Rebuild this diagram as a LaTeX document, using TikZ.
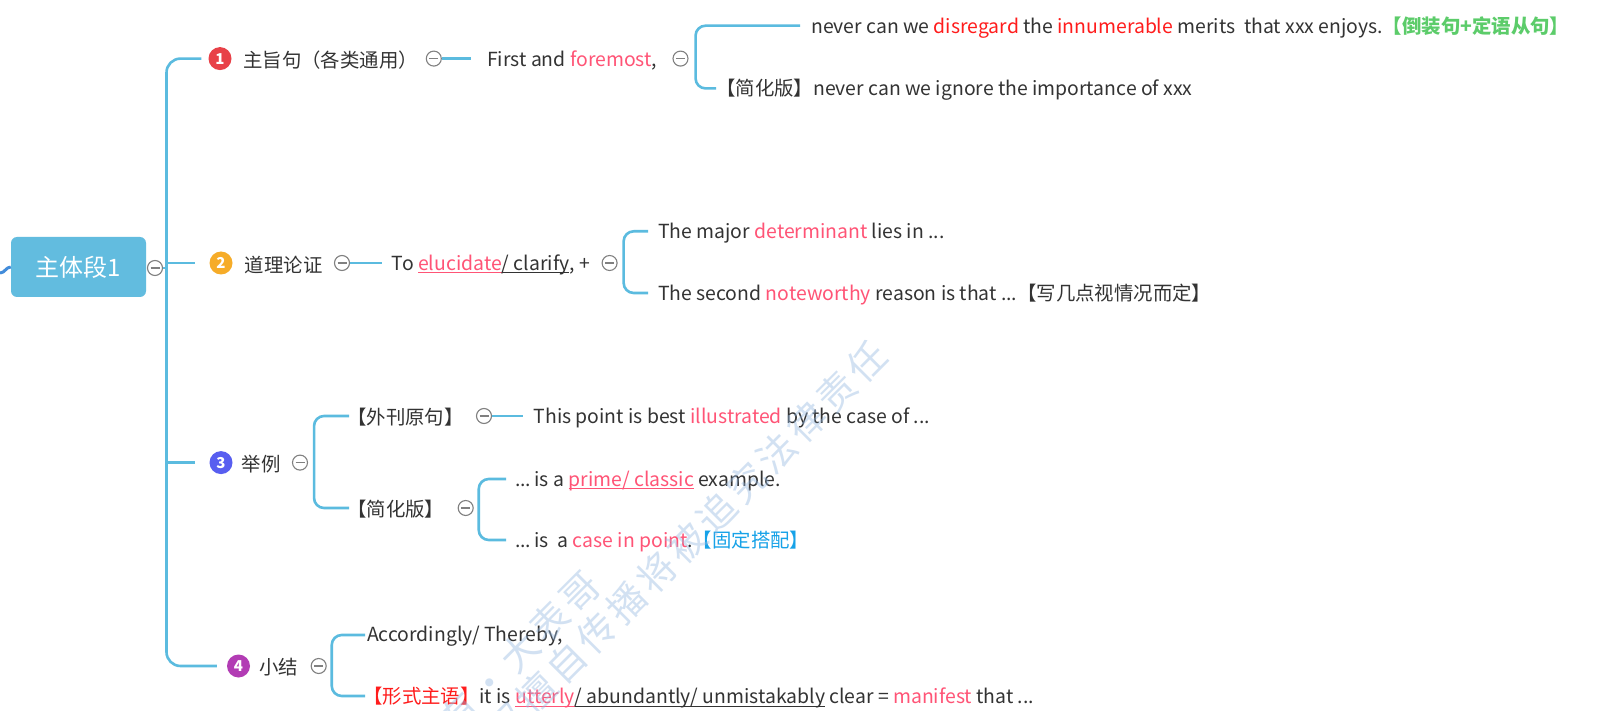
\documentclass[tikz,border=0pt]{standalone}
\usepackage{fontspec}
\setmainfont{Noto Sans CJK SC}
\usetikzlibrary{calc}
\definecolor{lineblue}{RGB}{91,187,223}
\definecolor{rootblue}{RGB}{98,188,223}
\definecolor{darkline}{RGB}{66,140,218}
\definecolor{txt}{RGB}{51,51,51}
\definecolor{pinkc}{RGB}{255,84,118}
\definecolor{redc}{RGB}{255,28,28}
\definecolor{greenc}{RGB}{92,204,106}
\definecolor{bluec}{RGB}{22,162,232}
\definecolor{wm}{RGB}{150,185,225}
\definecolor{numred}{RGB}{232,65,72}
\definecolor{numorange}{RGB}{246,172,40}
\definecolor{numblue}{RGB}{88,94,240}
\definecolor{numpurple}{RGB}{178,60,180}
\definecolor{foldgray}{RGB}{128,128,128}
\newcommand\myul[1]{\setbox0\hbox{#1}\rlap{\rule[-3.2pt]{\wd0}{1.1pt}}\box0\relax}
\newcommand\wk{\kern4.5pt}
\tikzset{
  conn/.style={draw=lineblue, line width=2.6pt},
  bracketline/.style={conn, rounded corners=10pt},
  txtnode/.style={anchor=west, inner sep=0pt, yshift=-1.5pt, text=txt, font=\fontsize{19.4}{23}\selectfont},
  numc/.style={circle, fill=#1, text=white, minimum size=23pt, inner sep=0pt, font=\fontsize{15}{15}\selectfont\bfseries},
  fold/.style={circle, draw=foldgray, fill=white, line width=1.1pt, minimum size=15pt, inner sep=0pt,
    path picture={\draw[foldgray, line width=1.1pt] ([xshift=-4.5pt]path picture bounding box.center) -- ([xshift=4.5pt]path picture bounding box.center);}},
  rootbox/.style={rectangle, rounded corners=6pt, fill=rootblue, text=white, minimum width=135pt, minimum height=60pt, inner sep=0pt, font=\fontsize{24}{26}\selectfont},
  wmtext/.style={text=wm, opacity=0.42, inner sep=0pt, font=\fontsize{38}{38}\selectfont, rotate=45}
}
\begin{document}
\begin{tikzpicture}[x=1pt,y=-1pt]
\useasboundingbox (0,0) rectangle (1612,711);
\fill[white] (0,0) rectangle (1612,711);

% root
\node[rootbox] (root) at (78.5,267) {主体段1};
\coordinate (inL) at (0,273);
\draw[darkline, line width=3pt] (inL) to[out=0,in=180] (root.west);
\node[fold] (rf) at (155,268) {};
\coordinate (spine) at (166.5,263);

% topic 1
\node[numc=numred] (c1) at (220,58.6) {1};
\node[txtnode] (l1) at (243,58.6) {主旨句（各类通用）};
\node[fold] (f1) at (433.8,58.6) {};
\node[txtnode] (s1) at (487,58.6) {First and {\color{pinkc}foremost},};
\node[fold] (f1b) at (680.5,58.6) {};
\node[txtnode] (s1a) at (811,25.7) {never can we {\color{redc}disregard} the {\color{redc}innumerable} merits\ \ that xxx enjoys.{\color{greenc}\bfseries【倒装句+定语从句】}};
\node[txtnode] (s1b) at (716,88.4) {【简化版】never can we ignore the importance of xxx};

% topic 2
\node[numc=numorange] (c2) at (221,263) {2};
\node[txtnode] (l2) at (244.7,263) {道理论证};
\node[fold] (f2) at (342,263) {};
\node[txtnode] (s2) at (391.7,263) {To {\color{pinkc}\myul{elucidate}}\myul{/ clarify}, +};
\node[fold] (f2b) at (609.6,263) {};
\node[txtnode] (s2a) at (658,231.3) {The major {\color{pinkc}determinant} lies in ...};
\node[txtnode] (s2b) at (658,293) {The second {\color{pinkc}noteworthy} reason is that ...【写几点视情况而定】};

% topic 3
\node[numc=numblue] (c3) at (221,462.6) {3};
\node[txtnode] (l3) at (241.6,462.6) {举例};
\node[fold] (f3) at (300,462.6) {};
\node[txtnode] (s3a) at (347,416) {【外刊原句】};
\node[fold] (f3a) at (484,416) {};
\node[txtnode] (s3a1) at (533.5,416) {This point is best {\color{pinkc}illustrated} by the case of ...};
\node[txtnode] (s3b) at (347,508) {【简化版】};
\node[fold] (f3b) at (465.7,508) {};
\node[txtnode] (s3b1) at (515,479) {...\,is a {\color{pinkc}\myul{prime/ classic}} example.};
\node[txtnode] (s3b2) at (515,540) {...\,is\ \ a {\color{pinkc}case in point}.{\color{bluec}【固定搭配】}};

% topic 4
\node[numc=numpurple] (c4) at (238.5,666) {4};
\node[txtnode] (l4) at (259,666) {小结};
\node[fold] (f4) at (318.7,666) {};
\node[txtnode] (s4a) at (367,635) {Accordingly/ Thereby,};
\node[txtnode] (s4b) at (363,696) {{\color{redc}【形式主语】}it is {\color{pinkc}\myul{utterly}}\myul{/ abundantly/ unmistakably} clear = {\color{pinkc}manifest} that ...};

% connectors: root and spine
\draw[conn] (rf.east) -- (spine |- rf);
\draw[conn, rounded corners=14pt] ([xshift=-7pt]c1.west) -| (spine) |- ([xshift=-10pt]c4.west);
\draw[conn] (spine) -- ([xshift=-14pt]c2.west);
\draw[conn] (spine |- c3) -- ([xshift=-14pt]c3.west);

% topic 1 connectors
\draw[conn] (f1.east) -- ([xshift=-16pt,yshift=1.5pt]s1.west);
\draw[bracketline] ([xshift=-11pt,yshift=1.5pt]s1a.west) -| ([xshift=7pt]f1b.east) |- ([yshift=1.5pt]s1b.west);
% topic 2 connectors
\draw[conn] (f2.east) -- ([xshift=-10pt,yshift=1.5pt]s2.west);
\draw[bracketline] ([xshift=-10pt,yshift=1.5pt]s2a.west) -| ([xshift=6pt]f2b.east) |- ([xshift=-10pt,yshift=1.5pt]s2b.west);
% topic 3 connectors
\draw[bracketline] ([xshift=2pt,yshift=1.5pt]s3a.west) -| ([xshift=6pt]f3.east) |- ([xshift=2pt,yshift=1.5pt]s3b.west);
\draw[conn] (f3a.east) -- ([xshift=-11pt,yshift=1.5pt]s3a1.west);
\draw[bracketline] ([xshift=-9pt,yshift=1.5pt]s3b1.west) -| ([xshift=5pt]f3b.east) |- ([xshift=-9pt,yshift=1.5pt]s3b2.west);
% topic 4 connectors
\draw[bracketline] ([xshift=-2pt,yshift=1.5pt]s4a.west) -| ([xshift=5pt]f4.east) |- ([xshift=2pt,yshift=1.5pt]s4b.west);

% watermark
\begin{scope}
\clip (0,0) rectangle (1612,711);
\node[wmtext, anchor=east] (wm1) at (593.7,578.7) {版\wk 权\wk 所\wk 有\wk ·\wk 大\wk 表\wk 哥};
\node[wmtext, anchor=east] (wm2) at (880.4,348.6) {未\wk 经\wk 授\wk 权\wk 擅\wk 自\wk 传\wk 播\wk 将\wk 被\wk 追\wk 究\wk 法\wk 律\wk 责\wk 任};
\end{scope}
\end{tikzpicture}
\end{document}
